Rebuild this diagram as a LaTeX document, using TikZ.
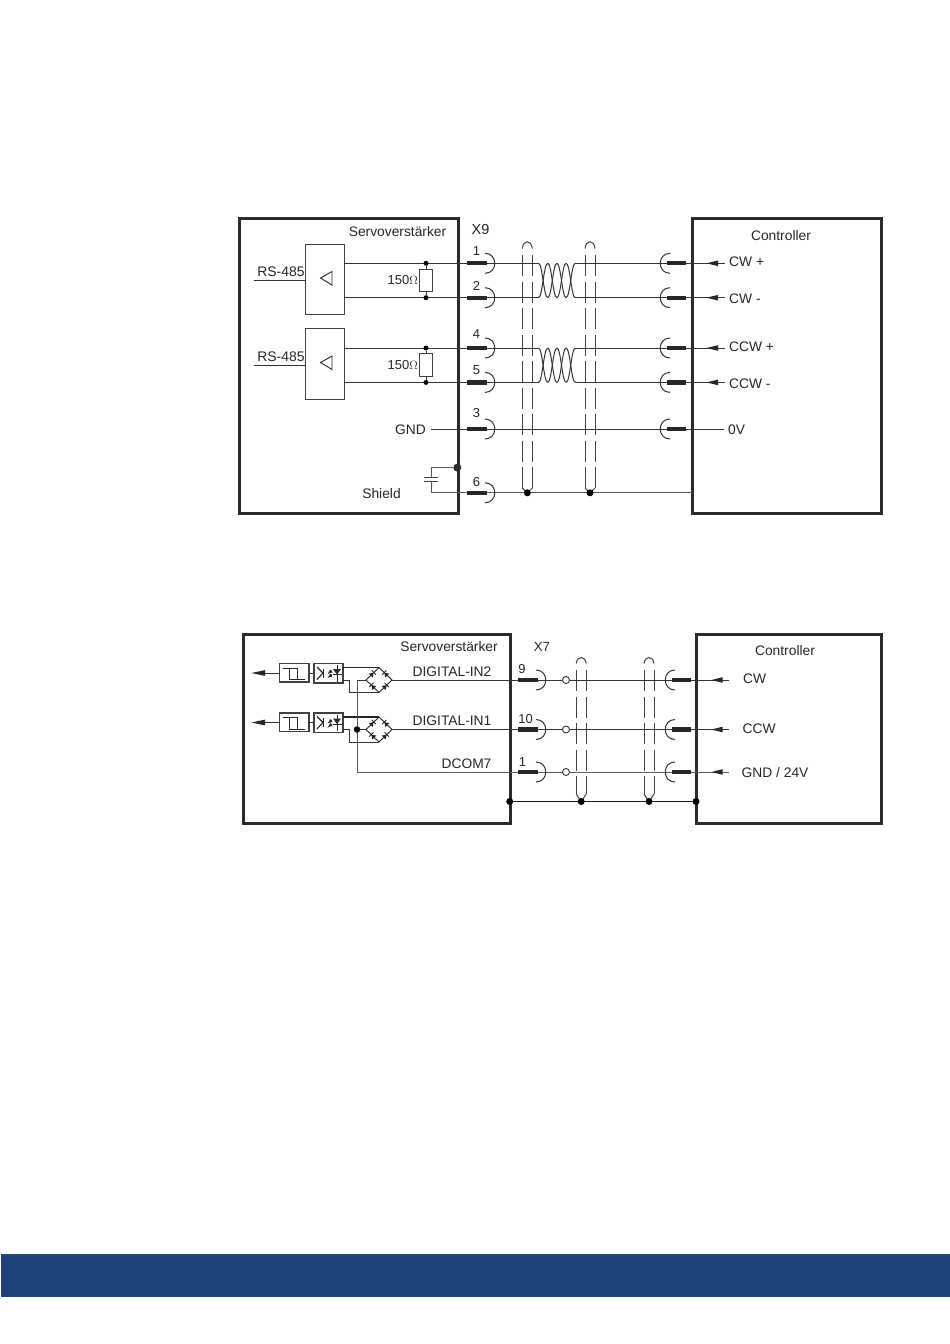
\documentclass[tikz,border=0pt]{standalone}
\usepackage{fontspec}
\setmainfont{Liberation Sans}
\usetikzlibrary{calc}
\definecolor{fr}{HTML}{2B2B2B}
\definecolor{band}{HTML}{1F437C}
\tikzset{x=1pt,y=-1pt,
 box/.style={draw=fr,line width=3pt,fill=white,outer sep=0pt,inner sep=0pt,anchor=north west},
 wire/.style={draw=black!80,line width=1pt},
 lbl/.style={font=\fontsize{13.8pt}{15pt}\selectfont,text=black!85,inner sep=0pt},
 nlbl/.style={font=\fontsize{13pt}{14pt}\selectfont,text=black!85,inner sep=0pt},
 thin box/.style={draw=black!75,line width=1pt,outer sep=0pt,inner sep=0pt},
 pinbar/.style={line width=4.3pt,draw=black!85},
 shield/.style={draw=black!75,line width=1pt,dash pattern=on 21pt off 5.5pt},
 dot/.style={circle,fill=black,inner sep=0pt,outer sep=0pt,minimum size=5pt},
 bigdot/.style={circle,fill=fr,inner sep=0pt,outer sep=0pt,minimum size=8pt},
 openc/.style={circle,draw=black!80,fill=white,line width=.9pt,inner sep=0pt,minimum size=7pt}
}
\newcommand{\plugL}[2]{% bar and right cup at x,y
 \draw[pinbar] (#1,#2) -- ++(19.5,0);
 \draw[wire] (#1+18,#2-10) .. controls (#1+31,#2-10) and (#1+31,#2+10) .. (#1+18,#2+10);
}
\newcommand{\plugR}[2]{% bar and left cup at x,y
 \draw[pinbar] (#1,#2) -- ++(19,0);
 \draw[wire] (#1+3,#2-10) .. controls (#1-10,#2-10) and (#1-10,#2+10) .. (#1+3,#2+10);
}
\newcommand{\twist}[2]{% twisted pair between y #1 and #2
 \foreach \i in {0,...,3}{
  \draw[wire] ({538.5+\i*9.2},#1) .. controls ({538.5+\i*9.2+4},#1) and ({538.5+\i*9.2+5.2},#2) .. ({538.5+\i*9.2+9.2},#2);
  \draw[wire] ({538.5+\i*9.2},#2) .. controls ({538.5+\i*9.2+4},#2) and ({538.5+\i*9.2+5.2},#1) .. ({538.5+\i*9.2+9.2},#1);
 }
}
\newcommand{\diode}[3]{% centre x,y, angle
 \begin{scope}[shift={(#1,#2)},rotate=#3]
  \fill[black!85] (-2.6,-2.8) -- (-2.6,2.8) -- (1.6,0) -- cycle;
  \draw[line width=.9pt,black!85] (1.8,-3) -- (1.8,3);
 \end{scope}
}
\newcommand{\bridge}[2]{% centre #1,#2
 \draw[line width=.9pt,black!85] (#1-13,#2) -- (#1,#2-12.5) -- (#1+13,#2) -- (#1,#2+12.5) -- cycle;
 \diode{#1-6.5}{#2-6.2}{45}
 \diode{#1+6.5}{#2-6.2}{135}
 \diode{#1-6.5}{#2+6.2}{135}
 \diode{#1+6.5}{#2+6.2}{45}
}
\newcommand{\opto}[2]{% box at left x,y top
 \draw[thin box,line width=1.2pt] (#1,#2) rectangle ++(29,19.5);
 \draw[line width=1.1pt,black!85] (#1+3,#2+3.5) -- (#1+9,#2+9.5) -- (#1+3,#2+16);
 \draw[line width=.9pt,black!85] (#1+9,#2+5) -- (#1+9,#2+14);
 \draw[line width=.7pt,black!85,->,>=latex] (#1+18,#2+7) -- ++(-4.5,3.5);
 \draw[line width=.7pt,black!85,->,>=latex] (#1+18,#2+11) -- ++(-4.5,3.5);
 \draw[line width=.9pt,black!85] (#1+23,#2+1.5) -- (#1+23,#2+18);
 \fill[black!85] (#1+19,#2+5.5) -- (#1+27,#2+5.5) -- (#1+23,#2+11) -- cycle;
 \draw[line width=1pt,black!85] (#1+18.5,#2+11) -- (#1+27.5,#2+11);
}
\newcommand{\schmitt}[2]{%
 \draw[thin box,line width=1.2pt] (#1,#2) rectangle ++(29.5,18.5);
 \draw[line width=1pt,black!85] (#1+3.5,#2+4.5) -- (#1+17.5,#2+4.5) -- (#1+17.5,#2+16) -- (#1+25.5,#2+16);
 \draw[line width=1pt,black!85] (#1+9.5,#2+4.5) -- (#1+9.5,#2+16) -- (#1+17.5,#2+16);
}
\begin{document}
\begin{tikzpicture}
\useasboundingbox (0,0) rectangle (950,1344);
\fill[white] (0,0) rectangle (950,1344);
\fill[band] (1,1254) rectangle (950,1297);

% ---------- upper diagram
\node[box,minimum width=218.5pt,minimum height=295pt] (amp1) at (239.5,218.5) {};
\node[box,minimum width=189.5pt,minimum height=295pt] (ctl1) at (692,218.5) {};

\node[lbl,anchor=base] (t1) at (397.5,236.5) {Servoverstärker};
\node[lbl,anchor=base,font=\fontsize{14.5pt}{16pt}\selectfont] (x9) at (480.5,234) {X9};
\node[lbl,anchor=base] (c1) at (781,240) {Controller};

% RS-485 boxes
\foreach \n/\y in {a/244,b/328.5}{
 \node[thin box,minimum width=39.5pt,minimum height=70.5pt,anchor=north west] (rs\n) at (305,\y) {};
 \draw[line width=.9pt,black!85] (332,\y+27.5) -- (320.5,\y+34) -- (332,\y+41) -- cycle;
 \node[lbl,anchor=base,font=\fontsize{13.9pt}{15pt}\selectfont] (rl\n) at (281,\y+32.5) {RS-485};
 \coordinate (rsin\n) at (254,\y+36.5);
 \draw[wire] (rsin\n) -- (rs\n.west |- rsin\n);
}
% signal wires
\foreach \y in {263.3,297.7,348,382.4}{
 \draw[wire] (344.5,\y) -- (538.5,\y);
 \draw[wire] (575.3,\y) -- (725,\y);
 \fill[black!85] (706.5,\y) -- (718,\y-2.8) -- (718,\y+2.8) -- cycle;
}
\twist{263.3}{297.7}
\twist{348}{382.4}
% resistors
\foreach \a/\b/\o in {263.3/297.7/a,348/382.4/b}{
 \node[dot] (rt\o) at (426,\a) {};
 \node[dot] (rb\o) at (426,\b) {};
 \node[thin box,fill=white,minimum width=13pt,minimum height=22.5pt] (r\o) at (426,\a+17.2) {};
 \draw[wire] (rt\o) -- (r\o); \draw[wire] (rb\o) -- (r\o);
 \node[nlbl,anchor=east] (ro\o) at (418,\a+17.2) {150$\Omega$};
}
% GND
\node[lbl,anchor=base east] (gnd) at (426,434.3) {GND};
\node[lbl,anchor=base west] (zero) at (728,434.3) {0V};
\coordinate (gndw) at (431,429);
\coordinate (zerow) at (724,429);
\draw[wire] (gndw) -- (zerow);
% Shield
\node[bigdot] (sd) at (457.3,467.6) {};
\draw[wire,black!65] (sd) -- (431,467.6) -- (431,477.3);
\draw[line width=1pt,black!75] (424,477.3) -- (438,477.3);
\draw[line width=1pt,black!75] (424,481.2) -- (438,481.2);
\draw[wire,black!65] (431,481.2) -- (431,492.8) -- (692,492.8);
\node[lbl,anchor=base] (sh) at (381.5,498) {Shield};
% plugs left
\foreach \x/\y/\by in {1/263.3/255.7,2/297.7/290.3,4/348/338.3,5/382.4/374.3,3/429/417.7,6/492.8/486}{
 \plugL{467}{\y}
 \node[nlbl,anchor=base] (pn\x) at (476.5,\by) {\x};
}
% plugs right
\foreach \y in {263.3,297.7,348,382.4,429}{
 \plugR{667}{\y}
}
\foreach \by/\t in {266.7/{CW +},303/{CW -},351.7/{CCW +},388.3/{CCW -}}{
 \node[lbl,anchor=base west] at (729,\by) {\t};
}
% shields
\foreach \x in {527.3,590}{
 \draw[shield] (\x-5,255) -- (\x-5,488);
 \draw[shield] (\x+5,255) -- (\x+5,488);
 \draw[line width=1pt,black!75] (\x-5,248.5) .. controls (\x-4,239.5) and (\x+4,239.5) .. (\x+5,248.5);
 \draw[line width=1pt,black!75] (\x-5,488) -- (\x,492.8) -- (\x+5,488);
 \node[dot,minimum size=7pt] at (\x,492.8) {};
}

% ---------- lower diagram
\node[box,minimum width=266.5pt,minimum height=189pt] (amp2) at (243.5,634.5) {};
\node[box,minimum width=185.5pt,minimum height=189pt] (ctl2) at (696,634.5) {};
\node[lbl,anchor=base] (t2) at (449,651) {Servoverstärker};
\node[lbl,anchor=base,font=\fontsize{13.3pt}{15pt}\selectfont] (x7) at (542,651) {X7};
\node[lbl,anchor=base] (c2) at (785,655) {Controller};

\node[lbl,anchor=base] at (452,676) {DIGITAL-IN2};
\node[lbl,anchor=base] at (452,725) {DIGITAL-IN1};
\node[lbl,anchor=base] at (466.5,768) {DCOM7};

\foreach \y/\yt in {680/663.5,729.5/713}{
 \schmitt{279.5}{\yt}
 \opto{314}{\yt}
 \draw[wire] (309,\yt+9.5) -- (314,\yt+9.5);
 \draw[wire] (279.5,\yt+9.5) -- (262,\yt+9.5);
 \fill[black!85] (251.5,\yt+9.5) -- (265,\yt+6.6) -- (265,\yt+12.4) -- cycle;
 \draw[line width=1.1pt,black!85] (343,\yt+4) -- (379,\yt+4);
 \draw[wire] (343,\yt+16.5) -- (349,\yt+16.5) -- (349,\yt+29) -- (379,\yt+29);
 \bridge{379}{\y}
 \draw[wire] (392,\y) -- (729,\y);
}
\draw[wire] (357,680) -- (366,680);
\draw[wire] (357,729.5) -- (366,729.5);
\draw[wire,black!65] (357,680) -- (357,772) -- (729,772);
\node[dot,minimum size=6.5pt] (jn) at (357,729.5) {};
% X7 plugs
\foreach \y/\l/\lx/\by in {680/9/522/673,729.5/10/525.5/723,772/1/522.5/766}{
 \plugL{518}{\y}
 \node[nlbl,anchor=base] at (\lx,\by) {\l};
 \node[openc] at (566,\y) {};
 \plugR{672}{\y}
 \fill[black!85] (711.5,\y) -- (722.5,\y-2.8) -- (722.5,\y+2.8) -- cycle;
}
\foreach \by/\t/\xx in {683/CW/743,733.3/CCW/742.5,777/{GND / 24V}/741.5}{
 \node[lbl,anchor=base west] at (\xx,\by) {\t};
}
% lower shields
\node[dot,minimum size=7pt] (g1) at (509.7,801.5) {};
\node[dot,minimum size=7pt] (g2) at (696,801.5) {};
\draw[wire,black!90] (g1) -- (g2);
\foreach \x in {581.2,649}{
 \draw[shield] (\x-5,670) -- (\x-5,794);
 \draw[shield] (\x+5,670) -- (\x+5,794);
 \draw[line width=1pt,black!75] (\x-5,663.5) .. controls (\x-4,655.5) and (\x+4,655.5) .. (\x+5,663.5);
 \draw[line width=1pt,black!75] (\x-5,794) -- (\x,801.5) -- (\x+5,794);
 \node[dot,minimum size=7pt] at (\x,801.5) {};
}
\end{tikzpicture}
\end{document}
